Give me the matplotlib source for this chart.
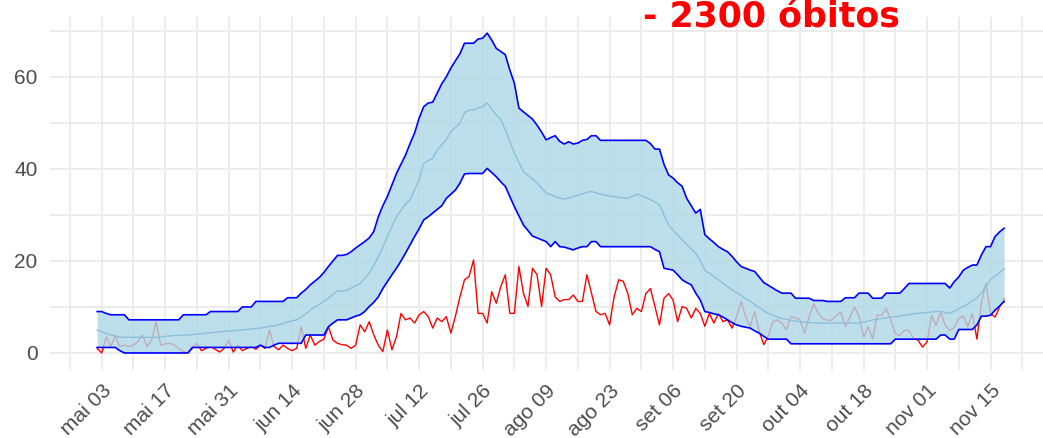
import numpy as np
import pandas as pd
import matplotlib
matplotlib.use("Agg")
import matplotlib.pyplot as plt

# datas diarias: 02/05 ate 18/11
datas = pd.date_range("2020-05-02", "2020-11-18", freq="D")

# obitos observados por dia
obitos = [
    1, 0, 3.5, 1.4, 3.7, 1.4, 1.7, 1.4, 1.7, 2.5,
    3.9, 1.4, 2.8, 6.8, 1.7, 2.0, 2.1, 1.7, 1.0, 0.3,
    0, 1.0, 2.1, 0.5, 1, 1.4, 0.8, 0.2, 1, 2.8,
    0.2, 1.7, 0.5, 1, 1.4, 0.8, 1.7, 1, 5, 1.4,
    0.7, 1.7, 1, 0.5, 1, 5.7, 1.0, 3.9, 1.7, 2.5,
    3.0, 5.7, 2.8, 2.1, 1.8, 1.7, 1.0, 1.7, 6.1, 4.6,
    6.8, 3.9, 1.7, 0.3, 5, 0.7, 3.5, 8.6, 7.2, 7.6,
    6.5, 8.3, 9.0, 7.9, 5.4, 7.6, 6.8, 7.9, 4.3, 8,
    12.2, 15.9, 16.6, 20.2, 8.6, 8.6, 6.5, 13.3, 10.8, 14.4,
    17, 8.6, 8.6, 18.8, 13, 10.1, 18.4, 17, 10.1, 18.4,
    17, 12.2, 11.2, 11.6, 11.6, 12.6, 11.2, 11.2, 17, 13,
    9, 8.3, 8.6, 6.1, 12.2, 15.9, 15.6, 13, 8.3, 9.7,
    9.0, 12.9, 14.0, 10.1, 6.1, 11.9, 12.9, 11.5, 6.8, 10.1,
    9.7, 7.6, 9.7, 8.6, 5.8, 8.6, 6.5, 8.6, 6.8, 7.2,
    5.4, 7.9, 11.2, 7.9, 5.8, 9, 4.7, 1.8, 3.6, 6.8,
    7.2, 6.5, 5, 7.9, 7.6, 7.2, 4.3, 7.8, 10.7, 8.6,
    7.5, 7.1, 7.1, 8.2, 8.9, 5.7, 7.8, 10, 8, 3.5,
    5.7, 3.1, 8.2, 8.2, 9.6, 7.1, 4.2, 3.8, 4.9, 4.9,
    3.1, 2.8, 1.3, 2.4, 8.2, 6, 8.9, 6.0, 4.9, 5.5,
    7.5, 8, 5.7, 8.6, 3.0, 11, 15.1, 8.6, 7.8, 10,
    11.8,
]

# previsao (mediana)
mediana = [
    5.0, 4.6, 4.2, 3.9, 3.7, 3.5, 3.4, 3.4, 3.4, 3.4,
    3.4, 3.4, 3.4, 3.4, 3.5, 3.6, 3.7, 3.8, 3.8, 3.9,
    3.9, 4.0, 4.1, 4.2, 4.3, 4.4, 4.5, 4.6, 4.7, 4.8,
    4.8, 4.9, 5.0, 5.1, 5.2, 5.3, 5.4, 5.6, 5.8, 5.9,
    6.1, 6.4, 6.7, 7.0, 7.2, 7.8, 8.5, 9.3, 10, 10.6,
    11.2, 11.9, 12.7, 13.5, 13.5, 13.6, 14.1, 14.6, 15.1, 16.2,
    17.3, 19, 20.9, 23, 25.3, 27.5, 29.6, 31, 32.3, 33.3,
    35.5, 37.6, 41.2, 41.8, 42.3, 44.1, 45.2, 46.3, 48.1, 49,
    49.9, 52.2, 52.8, 52.8, 53.2, 53.5, 54.3, 53, 51.7, 50.8,
    48.5, 46, 43.4, 41.4, 39.4, 38.6, 37.8, 37, 35.8, 34.8,
    34.4, 34, 33.7, 33.4, 33.7, 34, 34.3, 34.6, 34.9, 35.1,
    34.8, 34.5, 34.3, 34.1, 34, 33.8, 33.7, 33.6, 34, 34.5,
    34.2, 33.8, 33.3, 32.8, 32.2, 30, 27.8, 26.7, 25.6, 24.6,
    23.6, 22.6, 21.7, 20, 18, 17.3, 16.6, 15.9, 15.2, 14.4,
    13.7, 13.1, 12.5, 11.8, 11.2, 10.5, 9.9, 9.2, 8.6, 8.2,
    7.8, 7.5, 7.3, 7.1, 6.9, 6.8, 6.7, 6.6, 6.6, 6.5,
    6.5, 6.5, 6.5, 6.5, 6.5, 6.5, 6.5, 6.5, 6.5, 6.7,
    6.9, 7.2, 7.3, 7.5, 7.6, 7.8, 7.9, 8.0, 8.2, 8.3,
    8.5, 8.6, 8.7, 8.8, 8.9, 9.0, 9.0, 8.8, 8.6, 9.1,
    9.6, 10.1, 10.7, 11.3, 11.9, 13.1, 14.4, 15.9, 16.7, 17.5,
    18.2,
]

limite_inf = [
    1.2, 1.2, 1.2, 1.2, 1.2, 0.5, 0, 0, 0, 0,
    0, 0, 0, 0, 0, 0, 0, 0, 0, 0,
    0, 1.2, 1.2, 1.2, 1.2, 1.2, 1.2, 1.2, 1.2, 1.2,
    1.2, 1.2, 1.2, 1.2, 1.2, 1.2, 1.7, 1.2, 1.2, 1.7,
    2.1, 2.1, 2.1, 2.1, 2.1, 2.1, 3.9, 3.9, 3.9, 3.9,
    3.9, 5.7, 6.5, 7.2, 7.2, 7.2, 7.6, 8, 8.3, 9,
    10.1, 11, 12.2, 14, 15.5, 17, 18.4, 20, 21.7, 23.5,
    25.3, 27, 28.9, 29.6, 30.4, 31.2, 32, 33.6, 34.5, 35.4,
    36.9, 38.9, 39, 39, 39, 39, 40.1, 39.2, 38.3, 37.2,
    36.2, 34, 31.8, 29.8, 27.8, 26.6, 25.4, 25, 24.6, 24.2,
    23.1, 24.2, 23.1, 23, 22.7, 22.4, 22.8, 23.1, 23.1, 24.2,
    24.2, 23.1, 23.1, 23.1, 23.1, 23.1, 23.1, 23.1, 23.1, 23.1,
    23.1, 23.1, 23.1, 22.5, 22, 18.4, 18.2, 18, 17, 15.9,
    15.3, 14.8, 13, 11.5, 9, 8.8, 8.5, 8.3, 7.8, 7.2,
    6.6, 6.1, 5.8, 5.6, 5.4, 4.8, 4.3, 3.6, 3, 3,
    3, 3, 3, 2, 2, 2, 2, 2, 2, 2,
    2, 2, 2, 2, 2, 2, 2, 2, 2, 2,
    2, 2, 2, 2, 2, 2, 3, 3, 3, 3,
    3, 3, 3, 3, 3, 3, 3.9, 3.9, 3, 3,
    5.1, 5.1, 5.1, 5.1, 6.1, 8, 8, 8.2, 9.3, 10.2,
    11.2,
]

limite_sup = [
    9, 9, 8.6, 8.3, 8.3, 8.3, 8.3, 7.2, 7.2, 7.2,
    7.2, 7.2, 7.2, 7.2, 7.2, 7.2, 7.2, 7.2, 7.2, 8.3,
    8.3, 8.3, 8.3, 8.3, 8.3, 9, 9, 9, 9, 9,
    9, 9, 10, 10, 10, 11.2, 11.2, 11.2, 11.2, 11.2,
    11.2, 11.2, 12, 12, 12, 13, 13.8, 14.8, 15.6, 16.4,
    17.5, 18.8, 20, 21.2, 21.2, 21.4, 22, 22.8, 23.5, 24.2,
    25, 26.4, 29.6, 32, 34, 36.5, 39, 41, 43, 45.5,
    47.8, 51, 53.5, 54.3, 54.5, 56.5, 58.5, 60, 61.9, 63.5,
    65, 67.3, 67.3, 67.3, 68.2, 68.4, 69.5, 68, 66.2, 65.5,
    64.8, 61.5, 58.6, 53.2, 52.4, 51.6, 50.8, 49.5, 48, 46.3,
    46.8, 47.2, 46, 45.4, 45.9, 45.4, 45.6, 46.2, 46.4, 47.2,
    47.2, 46.2, 46.2, 46.2, 46.2, 46.2, 46.2, 46.2, 46.2, 46.2,
    46.2, 46.2, 45.5, 44.3, 44.3, 41, 38.7, 38, 37, 36.2,
    33.6, 32, 30.4, 31.2, 25.7, 24.8, 24, 23.1, 22.5, 22,
    21, 19.8, 18.8, 18.4, 18, 17.7, 16.5, 15.3, 14.7, 14.1,
    13.5, 13, 13, 13, 11.9, 11.9, 11.9, 11.9, 11.4, 11.4,
    11.4, 11.2, 11.2, 11.2, 11.2, 12, 12, 12, 13, 13,
    13, 11.9, 11.9, 11.9, 13, 13, 13, 13, 14, 15.1,
    15.1, 15.1, 15.1, 15.1, 15.1, 15.1, 15.1, 15.1, 14.1, 15.5,
    16.5, 18, 18.6, 19.1, 19.1, 21.3, 23.1, 23.1, 25.3, 26.3,
    27.1,
]

rotulos = ["mai 03", "mai 17", "mai 31", "jun 14", "jun 28", "jul 12", "jul 26",
           "ago 09", "ago 23", "set 06", "set 20", "out 04", "out 18", "nov 01", "nov 15"]
marcas = pd.date_range("2020-05-03", periods=len(rotulos), freq="14D")
semanas = pd.date_range("2020-04-26", "2020-11-29", freq="7D")

plt.rcParams["font.family"] = ["Liberation Sans", "DejaVu Sans"]

W, H = 1043, 438
fig = plt.figure(figsize=(W / 100, H / 100), dpi=100)
ax = fig.add_axes([50 / W, (H - 370) / H, (1054 - 50) / W, (370 - 17) / H])

# linha vermelha por baixo da faixa
ax.plot(datas, obitos, color="#FF0000", lw=1.0, zorder=2)
ax.fill_between(datas, limite_inf, limite_sup, color="#ADD8E6", alpha=0.8, lw=0, zorder=3)
ax.plot(datas, mediana, color="#8DBFDC", lw=1.0, zorder=4)
ax.plot(datas, limite_inf, color="#0000FF", lw=1.2, zorder=5)
ax.plot(datas, limite_sup, color="#0000FF", lw=1.2, zorder=5)

ax.set_xlim(datas[0] - pd.Timedelta(days=10.4), datas[-1] + pd.Timedelta(days=10))
ax.set_ylim(-3.7, 73)

ax.set_xticks(marcas)
ax.set_xticklabels(rotulos, rotation=45, ha="right", va="top", rotation_mode="anchor")
ax.set_xticks(semanas, minor=True)
ax.set_yticks([0, 20, 40, 60])
ax.set_yticks([10, 30, 50, 70], minor=True)

ax.grid(True, which="both", color="#EBEBEB", lw=1.3, zorder=0)
ax.set_axisbelow(True)
for s in ax.spines.values():
    s.set_visible(False)
ax.tick_params(which="both", length=0, labelsize=15, labelcolor="#4D4D4D")
ax.tick_params(axis="x", pad=8)
ax.tick_params(axis="y", pad=9)

# titulo cortado no topo
fig.text(55 / W, (H - 0.5) / H, "Óbitos", color="#595959", fontsize=21, va="baseline")
fig.text(643 / W, (H - 28) / H, "- 2300 óbitos", color="#FF0000", fontsize=25,
         fontweight="bold", family="DejaVu Sans", va="baseline")

fig.savefig("out.png", dpi=100)
